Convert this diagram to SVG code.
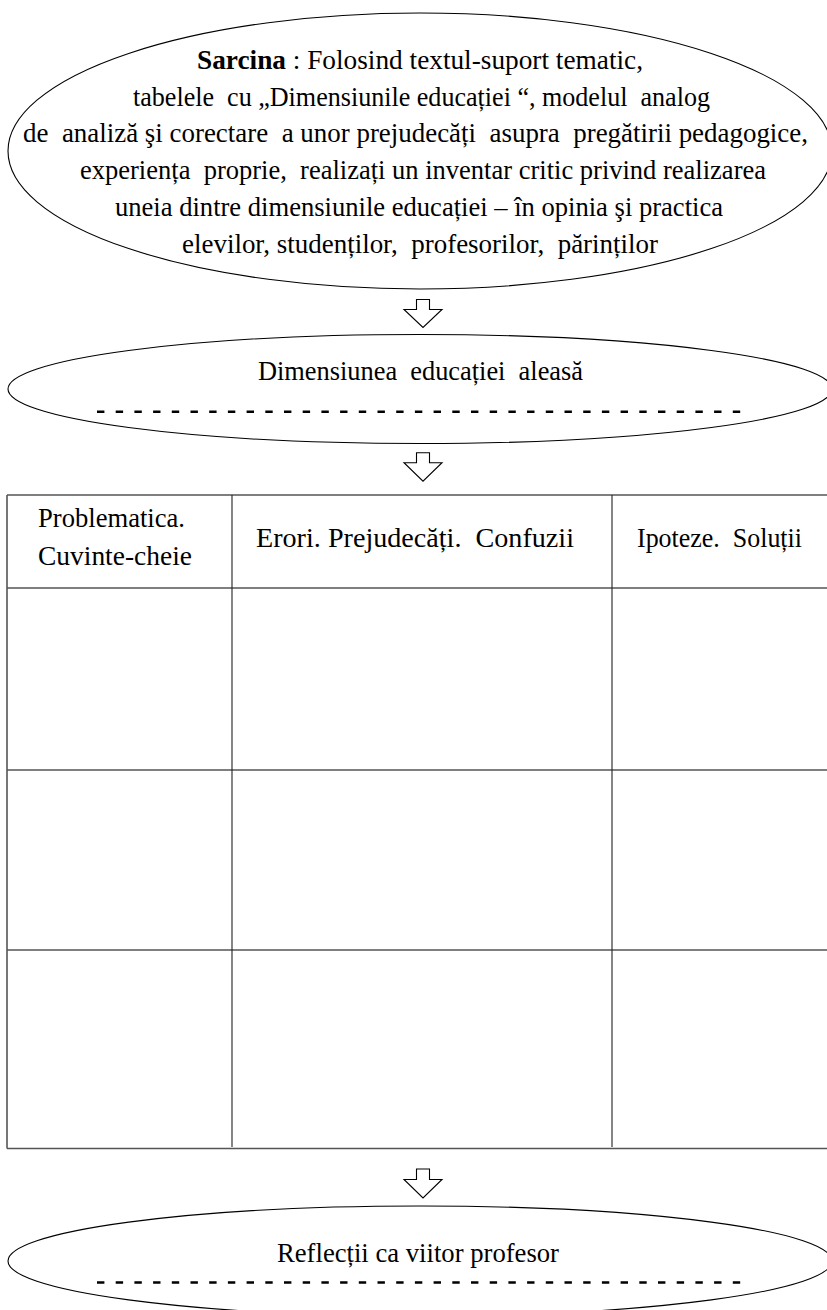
<svg xmlns="http://www.w3.org/2000/svg" width="827" height="1310" viewBox="0 0 827 1310">
<style>
.ell{fill:#fff;stroke:#000;stroke-width:1.1}
.t{font-family:"Liberation Serif","Times New Roman",serif;font-size:27px;fill:#000}
.c{text-anchor:middle}
.dash{stroke:#000;stroke-width:2.4;stroke-dasharray:7.4 11.3;fill:none}
.arr{fill:#fff;stroke:#000;stroke-width:1.1;stroke-linejoin:miter}
.tl{stroke:#555;stroke-width:1.6;fill:none}
.tv{stroke:#222;stroke-width:1.1;fill:none}
</style>
<rect width="827" height="1310" fill="#fff"/>
<g id="task">
<ellipse class="ell" cx="420" cy="151" rx="412" ry="138"/>
<text class="t c" x="420" y="69" textLength="446" lengthAdjust="spacingAndGlyphs"><tspan font-weight="bold">Sarcina</tspan> : Folosind  textul-suport  tematic,</text>
<text class="t c" x="421.5" y="105.7" textLength="577" lengthAdjust="spacingAndGlyphs" xml:space="preserve">tabelele  cu „Dimensiunile educației “, modelul  analog</text>
<text class="t c" x="415.5" y="142.4" textLength="785" lengthAdjust="spacingAndGlyphs" xml:space="preserve">de  analiză şi corectare  a unor prejudecăți  asupra  pregătirii pedagogice,</text>
<text class="t c" x="423" y="179.1" textLength="686" lengthAdjust="spacingAndGlyphs" xml:space="preserve">experiența  proprie,  realizați un inventar critic privind realizarea</text>
<text class="t c" x="419" y="215.8" textLength="608" lengthAdjust="spacingAndGlyphs">uneia dintre dimensiunile educației – în opinia şi practica</text>
<text class="t c" x="420" y="252.5" textLength="476" lengthAdjust="spacingAndGlyphs" xml:space="preserve">elevilor, studenților,  profesorilor,  părinților</text>
</g>
<g id="dimension">
<ellipse class="ell" cx="420" cy="389" rx="412" ry="54.5"/>
<text class="t c" x="420.5" y="380" textLength="325" lengthAdjust="spacingAndGlyphs" xml:space="preserve">Dimensiunea  educației  aleasă</text>
<line class="dash" x1="97" y1="411.7" x2="745" y2="411.7"/>
</g>
<g id="table">
<line class="tl" x1="7" y1="495" x2="827" y2="495"/>
<line class="tl" x1="7" y1="588" x2="827" y2="588"/>
<line class="tl" x1="7" y1="770" x2="827" y2="770"/>
<line class="tl" x1="7" y1="950" x2="827" y2="950"/>
<line class="tl" x1="7" y1="1148.5" x2="827" y2="1148.5"/>
<line class="tl" x1="7" y1="495" x2="7" y2="1148.5"/>
<line class="tv" x1="232" y1="495" x2="232" y2="1147"/>
<line class="tv" x1="612" y1="495" x2="612" y2="1147"/>
<text class="t" x="38" y="527" textLength="147" lengthAdjust="spacingAndGlyphs">Problematica.</text>
<text class="t" x="38" y="565" textLength="154" lengthAdjust="spacingAndGlyphs">Cuvinte-cheie</text>
<text class="t c" x="415" y="547" textLength="318" lengthAdjust="spacingAndGlyphs" xml:space="preserve">Erori. Prejudecăți.  Confuzii</text>
<text class="t c" x="719.5" y="547" textLength="165" lengthAdjust="spacingAndGlyphs" xml:space="preserve">Ipoteze.  Soluții</text>
</g>
<g id="reflection">
<ellipse class="ell" cx="420" cy="1261" rx="412" ry="55"/>
<text class="t c" x="418" y="1262" textLength="282" lengthAdjust="spacingAndGlyphs">Reflecții ca viitor profesor</text>
<line class="dash" x1="97" y1="1282.5" x2="745" y2="1282.5"/>
</g>
<g id="connectors">
<polygon class="arr" points="416.5,299.5 429.5,299.5 429.5,309.5 442,309.5 423,327.5 404,309.5 416.5,309.5"/>
<polygon class="arr" points="416.5,452.7 429.5,452.7 429.5,462.7 442,462.7 423,481.2 404,462.7 416.5,462.7"/>
<polygon class="arr" points="416.5,1169 429.5,1169 429.5,1179.5 442,1179.5 423,1198 404,1179.5 416.5,1179.5"/>
</g>
</svg>
